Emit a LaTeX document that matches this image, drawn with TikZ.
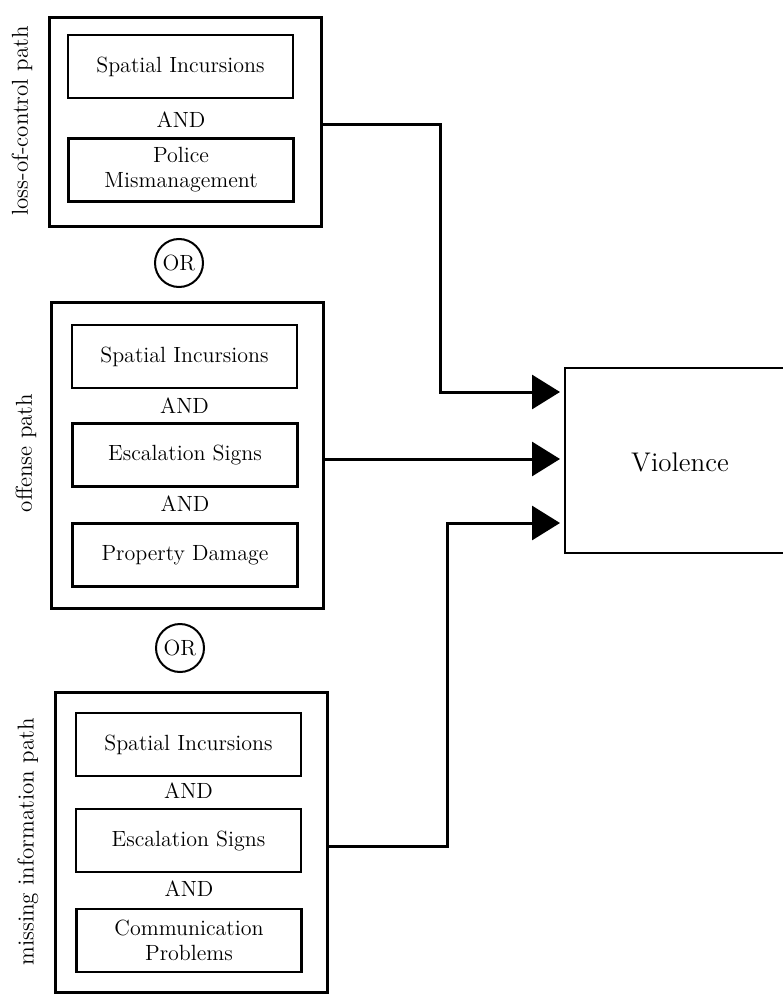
\documentclass[tikz,border=0pt]{standalone}
\usepackage{tikz}
\usetikzlibrary{arrows.meta}

\begin{document}
\begin{tikzpicture}[x=0.5pt,y=-0.5pt,>={Triangle[length=14pt,width=17pt]},
    cond/.style={draw, line width=1.2pt, minimum width=112.5pt, minimum height=31.5pt, align=center, inner sep=1pt, font=\fontsize{11}{12.5}\selectfont},
    pathbox/.style={draw, line width=1.5pt, minimum width=136pt},
    andtext/.style={font=\fontsize{11}{12}\selectfont, inner sep=0pt},
    ortext/.style={draw, circle, line width=1pt, minimum size=24pt, inner sep=0pt, font=\fontsize{11}{12}\selectfont},
    side/.style={rotate=90, font=\fontsize{11.5}{13}\selectfont, inner sep=0pt},
    flow/.style={->, line width=1.5pt, shorten >=2.5pt}]
  \useasboundingbox (0,0) rectangle (782,994);

  % loss-of-control path
  \node (loc)  [pathbox, minimum height=104.5pt] at (185,122.5) {};
  \node (loc1) [cond] at (180.5,66.5) {Spatial Incursions};
  \node (locand) [andtext] at (181,120) {AND};
  \node (loc2) [cond] at (181,170) {Police\\Mismanagement};
  \node (loclab) [side] at (22,121) {loss-of-control path};

  \node (or1) [ortext] at (179,263) {OR};

  % offense path
  \node (off)  [pathbox, minimum height=152.5pt] at (187.5,455.5) {};
  \node (off1) [cond] at (184.5,356.5) {Spatial Incursions};
  \node (offand1) [andtext] at (184.5,406) {AND};
  \node (off2) [cond] at (185,455) {Escalation Signs};
  \node (offand2) [andtext] at (185,504) {AND};
  \node (off3) [cond] at (185,555) {Property Damage};
  \node (offlab) [side] at (26,453) {offense path};

  \node (or2) [ortext] at (180,648) {OR};

  % missing information path
  \node (mis)  [pathbox, minimum height=150pt] at (191.5,842) {};
  \node (mis1) [cond] at (188.5,744.5) {Spatial Incursions};
  \node (misand1) [andtext] at (188.5,791) {AND};
  \node (mis2) [cond] at (188.5,840.5) {Escalation Signs};
  \node (misand2) [andtext] at (189,889) {AND};
  \node (mis3) [cond] at (189,940.5) {Communication\\Problems};
  \node (mislab) [side] at (28,842) {missing information path};

  % outcome
  \node (viol) [draw, line width=1pt, minimum width=117.5pt, minimum height=92.5pt, font=\fontsize{13.5}{15}\selectfont] at (682,460.5) {};
  \node (violtext) at (680,462) {\fontsize{13.5}{15}\selectfont Violence};
  \coordinate (in1) at (565,392);
  \coordinate (in2) at (565,459);
  \coordinate (in3) at (565,523);

  \draw[flow] (loc.east |- 0,125) -- (440,125) |- (in1);
  \draw[flow] (off.east |- in2) -- (in2);
  \draw[flow] (mis.east |- 0,846) -- (447,846) |- (in3);
\end{tikzpicture}
\end{document}
